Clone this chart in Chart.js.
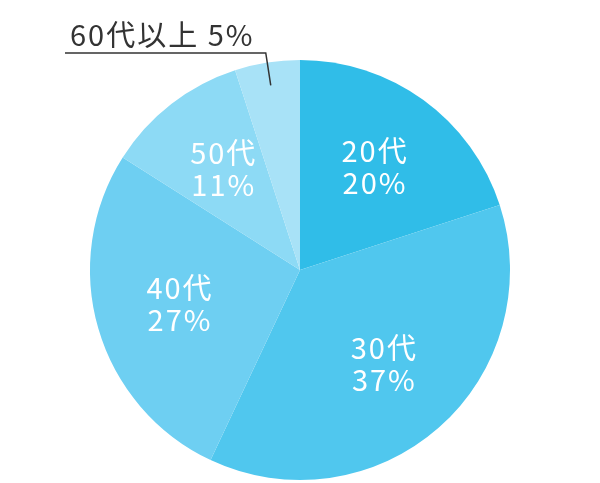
<!DOCTYPE html>
<html lang="ja">
<head>
  <meta charset="UTF-8">
  <title>年代別</title>
  <style>
    body {
      margin: 0;
      background: #fff;
    }

    .wrap {
      width: 600px;
      height: 483px;
      position: relative;
    }
  </style>
</head>
<body>

<div class="wrap">
  <canvas id="ageChart" width="600" height="483"></canvas>
</div>

<script src="https://cdn.jsdelivr.net/npm/chart.js"></script>
<script>
const ageLabels = ["20代", "30代", "40代", "50代", "60代以上"];
const ageShares = [20, 37, 27, 11, 5];
const sliceColors = ["#30bde8", "#50c7ee", "#6ecff2", "#8ddaf5", "#a8e2f7"];

const FONT = '"Noto Sans CJK JP", "Noto Sans", sans-serif';

// ラベルを描くプラグイン
const sliceLabels = {
  id: "sliceLabels",
  afterDatasetsDraw(chart) {
    const ctx = chart.ctx;
    const arcs = chart.getDatasetMeta(0).data;
    ctx.save();
    ctx.font = "400 29px " + FONT;
    ctx.letterSpacing = "2px";
    ctx.textAlign = "center";
    ctx.textBaseline = "middle";
    arcs.forEach((arc, i) => {
      const mid = (arc.startAngle + arc.endAngle) / 2;
      if (i === arcs.length - 1) {
        // 小さいスライスは外側に引き出し線
        const r = arc.outerRadius * 0.89;
        const px = arc.x + Math.cos(mid) * r;
        const py = arc.y + Math.sin(mid) * r;
        ctx.strokeStyle = "#333";
        ctx.lineWidth = 1.5;
        ctx.beginPath();
        ctx.moveTo(px, py);
        ctx.lineTo(px - 5, 53);
        ctx.lineTo(65, 53);
        ctx.stroke();
        ctx.fillStyle = "#333";
        ctx.textAlign = "left";
        ctx.textBaseline = "alphabetic";
        ctx.fillText(ageLabels[i] + " " + ageShares[i] + "%", 70, 46);
        return;
      }
      const r = arc.outerRadius * 0.6;
      const x = arc.x + Math.cos(mid) * r + 1;
      const y = arc.y + Math.sin(mid) * r;
      ctx.fillStyle = "#fff";
      ctx.fillText(ageLabels[i], x, y - 17);
      ctx.fillText(ageShares[i] + "%", x, y + 15);
    });
    ctx.restore();
  }
};

new Chart(document.getElementById("ageChart"), {
  type: "pie",
  data: {
    labels: ageLabels,
    datasets: [{
      data: ageShares,
      backgroundColor: sliceColors,
      borderWidth: 0
    }]
  },
  options: {
    responsive: false,
    animation: false,
    layout: { padding: { top: 60, bottom: 3, left: 90, right: 90 } },
    plugins: {
      legend: { display: false },
      tooltip: { enabled: false }
    }
  },
  plugins: [sliceLabels]
});
</script>
</body>
</html>
